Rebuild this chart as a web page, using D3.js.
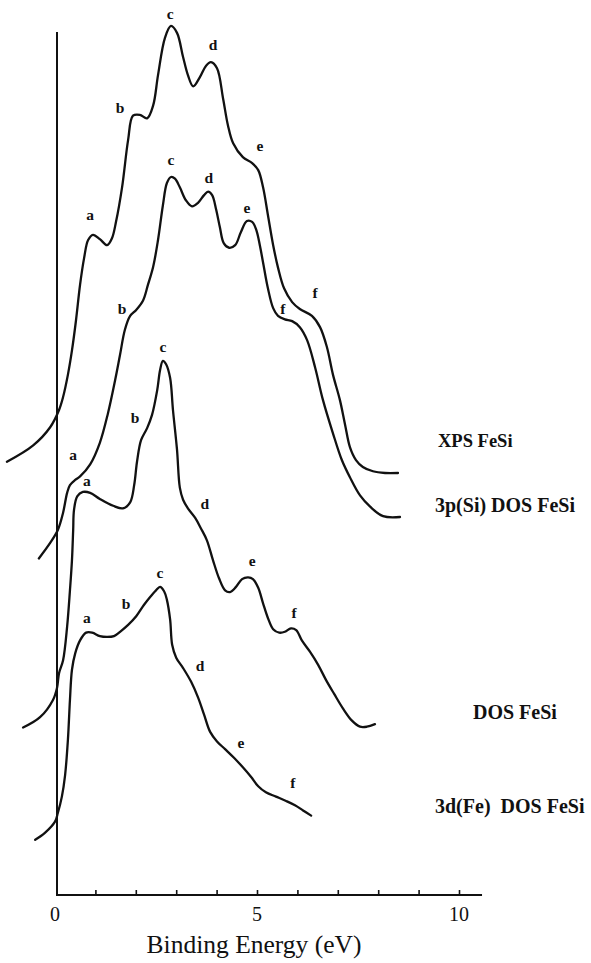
<!DOCTYPE html>
<html><head><meta charset="utf-8">
<script src="https://cdn.jsdelivr.net/npm/d3@7"></script>
<style>html,body{margin:0;padding:0;background:#fff;} svg{display:block}</style>
</head><body>
<svg id="chart" width="591" height="963"></svg>
<script>
// ---- data (binding energy in eV, stacked intensity in arbitrary units) ----
const xpsE = [-1.19,-0.54,-0.12,0.10,0.20,0.32,0.42,0.52,0.62,0.72,0.82,0.94,1.11,1.29,1.41,1.51,1.66,1.81,1.93,2.10,2.28,2.43,2.55,2.72,2.87,3.02,3.17,3.29,3.42,3.59,3.74,3.86,4.01,4.16,4.28,4.41,4.65,4.88,5.03,5.15,5.27,5.40,5.52,5.67,5.87,6.06,6.36,6.56,6.73,6.88,7.05,7.18,7.30,7.45,7.62,7.87,8.17,8.49];
const xpsI = [50.2,52.1,54.2,56.2,57.7,60.3,63.1,66.6,70.7,73.8,75.9,76.5,76.0,75.3,76.1,78.0,82.0,87.5,90.3,90.4,90.0,91.5,95.0,99.3,100.7,99.9,97.1,95.0,93.7,94.8,96.1,96.5,95.8,92.3,89.2,87.1,85.5,84.8,84.0,82.0,78.8,75.3,72.7,70.3,68.7,67.9,67.1,65.8,63.5,60.3,57.4,54.5,51.9,50.4,49.6,49.1,48.9,48.9];

const siE = [-0.40,-0.12,0.07,0.20,0.30,0.37,0.50,0.62,0.87,1.11,1.31,1.49,1.61,1.73,1.86,2.01,2.18,2.30,2.43,2.55,2.67,2.77,2.87,2.97,3.09,3.24,3.39,3.54,3.69,3.79,3.89,3.99,4.08,4.18,4.31,4.46,4.60,4.75,4.88,4.98,5.07,5.15,5.27,5.40,5.52,5.69,5.87,6.06,6.24,6.44,6.63,6.88,7.10,7.30,7.55,7.80,8.12,8.54];
const siI = [39.0,40.8,42.3,44.3,46.6,47.5,48.1,48.5,49.9,52.4,55.8,59.7,62.6,65.5,67.1,67.8,68.9,70.7,72.8,75.9,79.9,82.5,83.2,83.0,82.0,80.5,79.8,80.2,81.1,81.5,81.1,79.4,77.4,75.5,75.0,75.3,76.8,78.1,78.0,77.1,75.3,73.3,70.3,68.0,67.1,66.7,66.5,65.8,64.3,61.1,57.4,53.5,50.4,48.4,46.3,45.0,43.9,43.8];

const dosE = [-0.79,-0.37,-0.05,0.05,0.10,0.20,0.30,0.37,0.42,0.45,0.47,0.55,0.69,0.87,1.11,1.44,1.68,1.86,1.96,2.03,2.13,2.28,2.40,2.53,2.60,2.67,2.75,2.85,2.92,3.02,3.09,3.17,3.29,3.47,3.61,3.76,3.91,4.06,4.21,4.33,4.48,4.63,4.78,4.90,5.03,5.15,5.27,5.40,5.55,5.69,5.84,5.97,6.11,6.31,6.51,6.71,6.91,7.13,7.35,7.55,7.72,7.92];
const dosI = [19.4,20.6,22.6,24.0,25.7,27.2,31.1,35.3,38.8,42.3,44.6,46.2,46.7,46.6,45.9,45.1,44.8,45.5,47.5,50.2,52.7,54.1,55.6,58.5,60.8,61.9,61.5,59.9,56.2,51.6,47.2,45.8,44.8,43.7,42.5,41.1,38.8,36.7,35.3,35.1,35.7,36.6,36.8,36.6,35.6,33.8,32.1,30.8,30.4,30.5,30.9,30.7,29.5,28.2,26.7,24.9,23.3,21.6,20.2,19.5,19.5,19.8];

const feE = [-0.49,-0.25,0.00,0.07,0.17,0.25,0.32,0.37,0.42,0.50,0.62,0.77,0.92,1.11,1.29,1.46,1.61,1.81,2.01,2.20,2.35,2.50,2.60,2.70,2.77,2.85,2.90,3.00,3.17,3.37,3.54,3.69,3.84,4.01,4.21,4.43,4.65,4.85,5.03,5.22,5.47,5.72,5.94,6.14,6.34];
const feI = [6.4,7.2,8.5,9.5,11.4,13.9,18.0,22.6,26.1,28.0,29.5,30.4,30.4,30.0,29.9,30.0,30.5,31.3,32.3,33.6,34.5,35.3,35.7,35.2,34.2,31.9,29.0,27.5,26.3,24.7,22.9,20.9,18.9,17.8,16.9,15.9,14.8,13.7,12.6,11.9,11.4,10.9,10.4,9.8,9.2];

// peak annotation letters and where they sit (eV, a.u.)
const peakLetters = ["a","b","c","d","e","f"];
const xpsPeakE = [0.87,1.61,2.85,3.91,5.07,6.44];
const xpsPeakI = [78.8,91.2,102.2,98.5,86.9,69.8];
const siPeakE = [0.45,1.66,2.87,3.81,4.75,5.64];
const siPeakI = [51.0,68.0,85.2,83.1,79.7,68.0];
const dosPeakE = [0.79,1.98,2.67,3.71,4.88,5.92];
const dosPeakI = [48.0,55.3,63.6,45.4,38.8,32.7];
const fePeakE = [0.79,1.76,2.60,3.59,4.60,5.89];
const fePeakI = [32.1,33.8,37.4,26.6,17.7,13.0];

const seriesNames = ["XPS FeSi", "3p(Si) DOS FeSi", "DOS FeSi", "3d(Fe)\u00a0 DOS FeSi"];
const tickValues = [1,2,3,4,5,6,7,8,9,10];
const labelValues = [0,5,10];
const labelTexts = ["0","5","10"];
const axisTitle = "Binding Energy (eV)";

// ---- drawing ----
const svg = d3.select("#chart");
svg.append("rect").attr("width",591).attr("height",963).attr("fill","#fff");
const x = d3.scaleLinear().domain([0,10]).range([55,459]);
const y = d3.scaleLinear().domain([0,100]).range([895,32]);
const serif = "'Liberation Serif','Times New Roman',serif";

const series = [
  {E:xpsE, I:xpsI, pE:xpsPeakE, pI:xpsPeakI, name:seriesNames[0], lx:438, ly:447, size:18.5},
  {E:siE,  I:siI,  pE:siPeakE,  pI:siPeakI,  name:seriesNames[1], lx:435, ly:512, size:20},
  {E:dosE, I:dosI, pE:dosPeakE, pI:dosPeakI, name:seriesNames[2], lx:473, ly:719, size:20},
  {E:feE,  I:feI,  pE:fePeakE,  pI:fePeakI,  name:seriesNames[3], lx:435, ly:813, size:20}
];

const line = d3.line().x(d=>x(d[0])).y(d=>y(d[1])).curve(d3.curveCatmullRom.alpha(0.5));

// axes
const ax = svg.append("g").attr("stroke","#111").attr("stroke-width",2).attr("fill","none");
ax.append("line").attr("x1",x(0)+2).attr("x2",x(0)+2).attr("y1",y(100)).attr("y2",y(0)+1);
ax.append("line").attr("x1",x(0)+2).attr("x2",x(10.57)).attr("y1",y(0)).attr("y2",y(0));

const axisG = svg.append("g").attr("transform",`translate(0,${y(0)})`)
  .call(d3.axisBottom(x).tickValues(tickValues).tickSize(-5).tickFormat(""));
axisG.select(".domain").remove();
axisG.selectAll(".tick line").attr("stroke","#111").attr("stroke-width",1.6);

svg.append("g").selectAll("text").data(labelValues).join("text")
  .attr("x",(d)=>x(d)).attr("y",y(0)+26)
  .attr("text-anchor","middle").attr("font-family",serif).attr("font-size",20).attr("fill","#111")
  .text((d,i)=>labelTexts[i]);

svg.append("text").attr("x",x(5)-3).attr("y",953).attr("text-anchor","middle")
  .attr("font-family",serif).attr("font-size",25.5).attr("fill","#111").text(axisTitle);

// curves
series.forEach(s=>{
  const pts = s.E.map((e,i)=>[e,s.I[i]]);
  svg.append("path").datum(pts).attr("d",line)
    .attr("fill","none").attr("stroke","#111").attr("stroke-width",2.3)
    .attr("stroke-linejoin","round").attr("stroke-linecap","round");
  svg.append("g").selectAll("text").data(peakLetters).join("text")
    .attr("x",(d,i)=>x(s.pE[i])).attr("y",(d,i)=>y(s.pI[i]))
    .attr("text-anchor","middle").attr("dominant-baseline","central")
    .attr("font-family",serif).attr("font-weight","bold").attr("font-size",15.5).attr("fill","#111")
    .text(d=>d);
  svg.append("text").attr("x",s.lx).attr("y",s.ly)
    .attr("font-family",serif).attr("font-weight","bold").attr("font-size",s.size).attr("fill","#111")
    .text(s.name);
});
</script>
</body></html>
